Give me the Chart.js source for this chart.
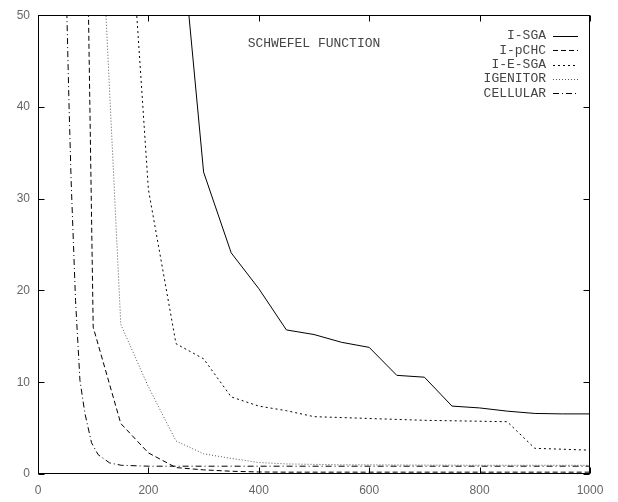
<!DOCTYPE html>
<html><head><meta charset="utf-8">
<script src="https://cdn.jsdelivr.net/npm/chart.js@4.4.0/dist/chart.umd.min.js"></script>
<style>html,body{margin:0;padding:0;background:#fff;}#wrap{width:618px;height:502px;}</style>
</head><body><div id="wrap"><canvas id="c" width="618" height="502"></canvas></div>
<script>
// ---- data ----
const chartTitle = 'SCHWEFEL FUNCTION';
const seriesNames = ['I-SGA', 'I-pCHC', 'I-E-SGA', 'IGENITOR', 'CELLULAR'];
const xValues = [50,100,150,200,250,300,350,400,450,500,550,600,650,700,750,800,850,900,950,1000];
const iSga     = [null,null,null,null,65,32.9,24.1,20.2,15.7,15.2,14.35,13.8,10.75,10.55,7.4,7.2,6.85,6.6,6.55,6.55];
const iPchc    = [216,16,5.5,2.3,0.7,0.45,0.3,0.22,0.2,0.2,0.2,0.2,0.2,0.2,0.2,0.2,0.2,0.2,0.2,0.2];
const iESga    = [null,null,76,31,14.2,12.55,8.4,7.4,6.9,6.25,6.15,6.05,5.95,5.85,5.8,5.75,5.7,2.8,2.7,2.6];
const iGenitor = [null,79,16.3,9.5,3.6,2.2,1.7,1.25,1.1,1.05,1.0,1.0,0.98,0.97,0.96,0.95,0.95,0.95,0.95,0.95];
const cellularX = [50,56,60,68,76,85,97,109,130,151,200,300,400,500,600,700,800,900,1000];
const cellularY = [56,40.7,32,18.9,10.2,6.6,3.4,2.1,1.2,0.95,0.85,0.85,0.85,0.85,0.85,0.85,0.85,0.85,0.85];
const xTickStep = 200;
const yTickStep = 10;

// ---- build ----
function pts(xs, ys){ return xs.map((x,i)=>({x:x, y:ys[i]})); }
const styles = [
  {color:'#000', dash:[]},
  {color:'#000', dash:[5,3]},
  {color:'#000', dash:[2,3]},
  {color:'#555', dash:[1,2]},
  {color:'#000', dash:[6,3,1,3]}
];
const seriesData = [pts(xValues,iSga), pts(xValues,iPchc), pts(xValues,iESga), pts(xValues,iGenitor), pts(cellularX,cellularY)];
const datasets = seriesNames.map((n,i)=>({
  label:n, data:seriesData[i], borderColor:styles[i].color, borderDash:styles[i].dash,
  borderWidth:1, pointRadius:0, tension:0, fill:false
}));

const deco = {
  id:'deco',
  afterDatasetsDraw(chart){
    const ctx = chart.ctx, a = chart.chartArea, xs = chart.scales.x, ys = chart.scales.y;
    ctx.save();
    ctx.strokeStyle = '#000'; ctx.lineWidth = 1; ctx.setLineDash([]);
    const L = Math.round(a.left)+0.5, R = Math.round(a.right)-0.5, T = Math.round(a.top)+0.5, B = Math.round(a.bottom)-0.5;
    ctx.strokeRect(L, T, R-L, B-T);
    const tl = 6;
    ctx.beginPath();
    for (let v = xs.min; v <= xs.max; v += xTickStep){
      const p = Math.round(xs.getPixelForValue(v))+0.5;
      ctx.moveTo(p,B); ctx.lineTo(p,B-tl);
      ctx.moveTo(p,T); ctx.lineTo(p,T+tl);
    }
    for (let v = ys.min; v <= ys.max; v += yTickStep){
      const p = Math.round(ys.getPixelForValue(v))+0.5;
      ctx.moveTo(L,p); ctx.lineTo(L+tl,p);
      ctx.moveTo(R,p); ctx.lineTo(R-tl,p);
    }
    ctx.stroke();
    // title
    ctx.font = '13px "Liberation Mono", "DejaVu Sans Mono", monospace';
    ctx.fillStyle = '#444'; ctx.textAlign = 'center'; ctx.textBaseline = 'middle';
    ctx.fillText(chartTitle, 314, 44);
    // legend
    chart.data.datasets.forEach((ds,i)=>{
      const y = 36 + i*14.3;
      ctx.textAlign = 'right'; ctx.fillStyle = '#444';
      ctx.fillText(ds.label, 546, y);
      ctx.strokeStyle = ds.borderColor; ctx.setLineDash(ds.borderDash);
      ctx.beginPath(); ctx.moveTo(553, Math.round(y)+0.5); ctx.lineTo(578, Math.round(y)+0.5); ctx.stroke();
    });
    ctx.restore();
  }
};

new Chart(document.getElementById('c'), {
  type:'line',
  data:{datasets:datasets},
  options:{
    responsive:false, devicePixelRatio:1, animation:false,
    layout:{padding:{top:12, right:28, left:0, bottom:0}},
    plugins:{legend:{display:false}, title:{display:false}, tooltip:{enabled:false}},
    scales:{
      x:{type:'linear', min:0, max:1000,
         ticks:{stepSize:xTickStep, color:'#666', font:{family:'Liberation Sans', size:12}, padding:9, maxRotation:0,
                callback:(v)=>String(v)},
         grid:{display:false, drawTicks:false}, border:{display:false},
         afterFit(s){ s.height = 28; }},
      y:{type:'linear', min:0, max:50,
         ticks:{stepSize:yTickStep, color:'#666', font:{family:'Liberation Sans', size:12}, padding:8,
                callback:(v)=>String(v)},
         grid:{display:false, drawTicks:false}, border:{display:false},
         afterFit(s){ s.width = 38; }}
    }
  },
  plugins:[deco]
});
</script></body></html>
